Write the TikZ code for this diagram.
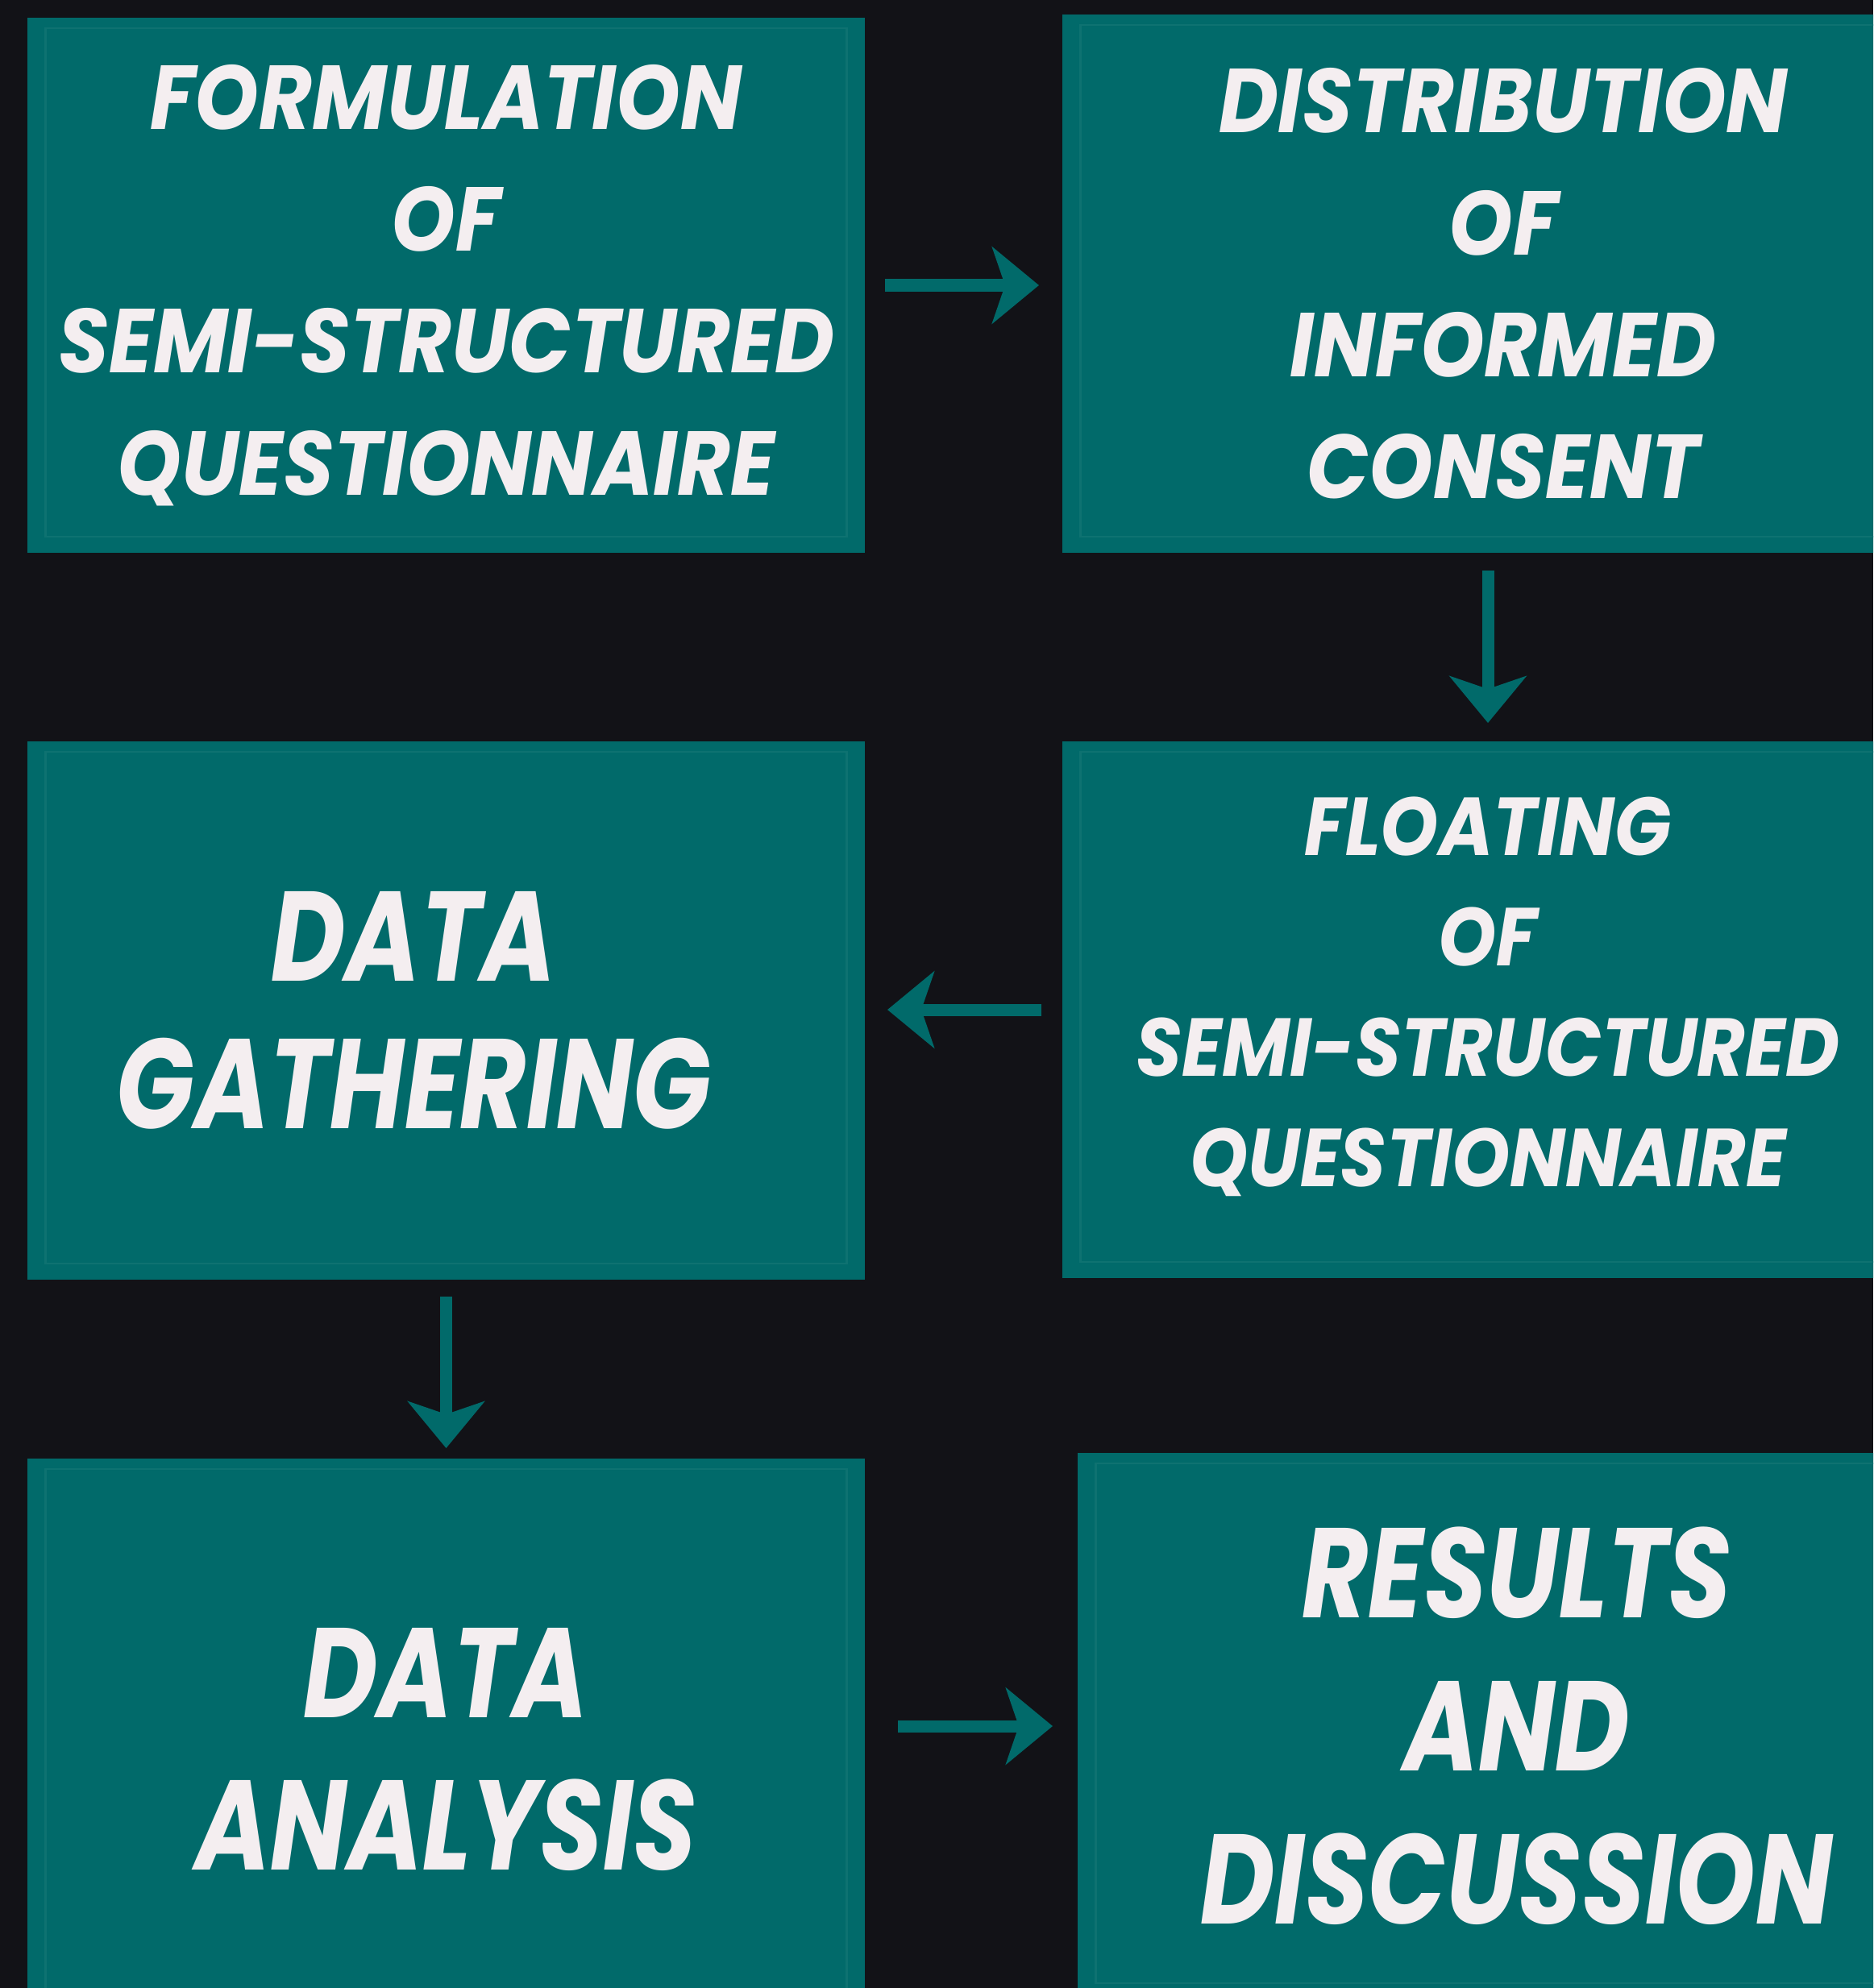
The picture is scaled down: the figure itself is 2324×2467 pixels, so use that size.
\documentclass[tikz,border=0pt]{standalone}
\usepackage{fontspec}
\usepackage{tikz}
\usetikzlibrary{arrows.meta}
\newfontfamily\stagefont[FakeStretch=0.9]{Poppins}
\newfontfamily\bigstagefont[FakeStretch=0.8]{Poppins}

\definecolor{bgdark}{HTML}{121217}
\definecolor{stageteal}{HTML}{016A6A}
\definecolor{frameteal}{HTML}{0E7271}
\definecolor{stagetext}{HTML}{F4EEF0}

\tikzset{
  stagebox/.style={fill=stageteal, text=stagetext, align=center, inner sep=0pt,
    path picture={\draw[frameteal, line width=0.025cm]
      ([shift={(0.23cm,-0.13cm)}]path picture bounding box.north west) rectangle
      ([shift={(-0.23cm,0.2cm)}]path picture bounding box.south east);}},
  smalltext/.style 2 args={font=\stagefont\bfseries\itshape\fontsize{#1}{#2}\selectfont},
  bigtext/.style={font=\bigstagefont\bfseries\itshape\fontsize{45}{#1}\selectfont},
  flowarrow/.style={draw=stageteal, line width=0.15cm,
    -{Stealth[length=0.58cm, width=0.95cm, inset=0.16cm]}}
}

\begin{document}
\begin{tikzpicture}[x=0.01cm, y=-0.01cm]
	% Page and background
	\useasboundingbox (0,0) rectangle (2324,2467);
	\fill[bgdark] (0,0) rectangle (2324,2467);
	\clip (0,0) rectangle (2324,2467);
	
	% Stages
	\node[stagebox, smalltext={32}{43}, minimum width=10.39cm, minimum height=6.64cm] (formulation) at (553.5,354)
		{FORMULATION\\OF\\SEMI-STRUCTURED\\QUESTIONNAIRE};
	\node[stagebox, smalltext={32}{43}, minimum width=10.94cm, minimum height=6.68cm] (consent) at (1865,352)
		{DISTRIBUTION\\OF\\INFORMED\\CONSENT};
	\node[stagebox, smalltext={29}{39}, minimum width=10.56cm, minimum height=6.66cm] (floating) at (1846,1253)
		{FLOATING\\OF\\SEMI-STRUCTURED\\QUESTIONNAIRE\rule[-0.45cm]{0pt}{0pt}};
	\node[stagebox, bigtext=52, minimum width=10.39cm, minimum height=6.68cm] (gathering) at (553.5,1254)
		{DATA\hspace*{0.8cm}\\GATHERING\hspace*{0.8cm}};
	\node[stagebox, bigtext=54, minimum width=10.39cm, minimum height=7.22cm] (analysis) at (553.5,2171)
		{DATA\\ANALYSIS};
	\node[stagebox, bigtext=54, minimum width=10.89cm, minimum height=6.78cm] (results) at (1881.5,2142)
		{RESULTS\\AND\\DISCUSSION};
	
	% Flow between stages
	\draw[flowarrow, shorten <=0.24cm, shorten >=0.28cm] (formulation.east) -- (formulation.east -| consent.west);
	\draw[flowarrow, shorten <=0.21cm, shorten >=0.22cm] (floating.north |- consent.south) -- (floating.north);
	\draw[flowarrow, shorten <=0.25cm, shorten >=0.27cm] (floating.west) -- (floating.west -| gathering.east);
	\draw[flowarrow, shorten <=0.2cm, shorten >=0.12cm] (gathering.south) -- (gathering.south |- analysis.north);
	\draw[flowarrow, shorten <=0.4cm, shorten >=0.3cm] (results.west -| analysis.east) -- (results.west);
\end{tikzpicture}
\end{document}
